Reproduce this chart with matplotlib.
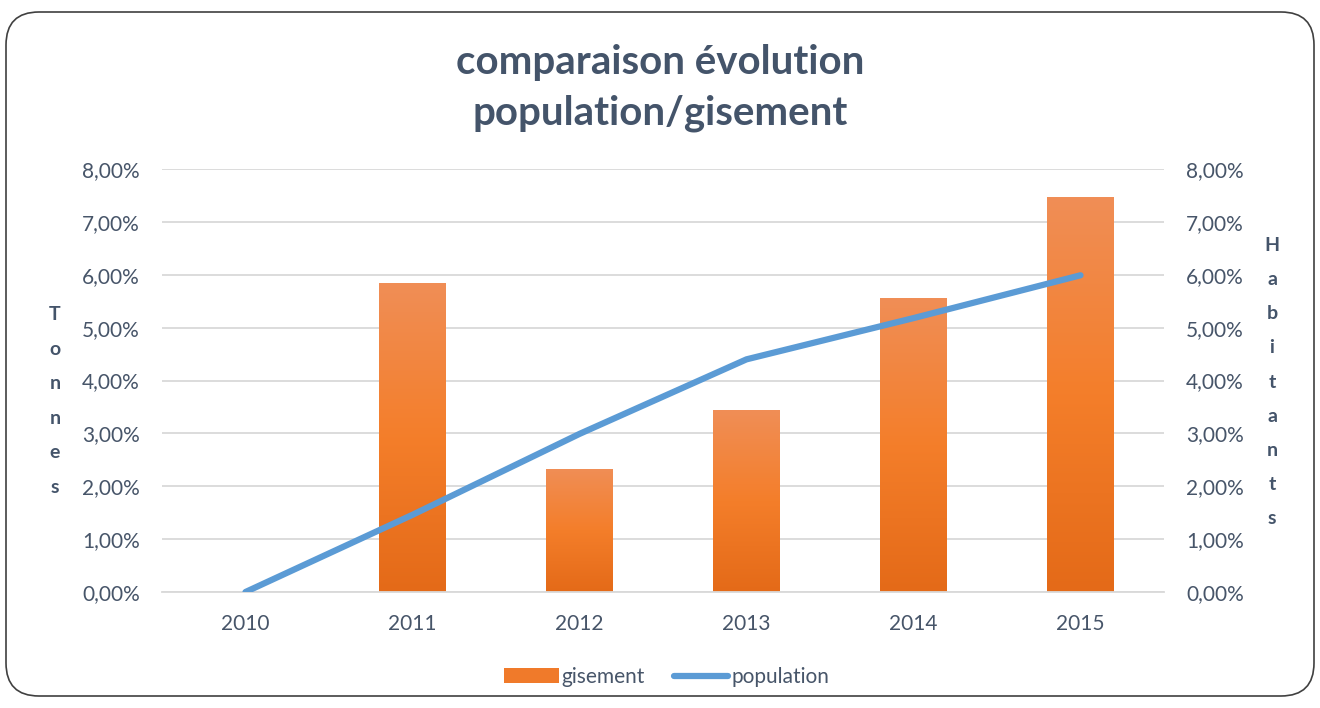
import matplotlib
matplotlib.use("Agg")
import matplotlib.pyplot as plt
import numpy as np
from matplotlib.patches import FancyBboxPatch, Patch
from matplotlib.lines import Line2D
from matplotlib.colors import LinearSegmentedColormap
from matplotlib.ticker import FuncFormatter

years = ["2010", "2011", "2012", "2013", "2014", "2015"]
gisement = [0.0, 5.84, 2.33, 3.44, 5.56, 7.47]
population = [0.0, 1.46, 2.99, 4.40, 5.18, 5.99]
y_ticks = [0, 1, 2, 3, 4, 5, 6, 7, 8]

title_color = "#44546A"
tick_color = "#475569"
label_color = "#44546A"
blue = "#5B9BD5"

plt.rcParams['font.family'] = ['Lato', 'DejaVu Sans']

fig = plt.figure(figsize=(13.2, 7.08), dpi=100)
W, H = 1320, 708
ax = fig.add_axes([162 / W, 1 - 592 / H, (1164 - 162) / W, (592 - 169) / H])
ax2 = ax.twinx()

x = np.arange(len(years))
bar_w = 0.4

# gradient-filled bars
grad = LinearSegmentedColormap.from_list("g", ["#E46A18", "#F47E2A", "#F08E56"])
gimg = np.linspace(0, 1, 256).reshape(-1, 1)
bars = ax.bar(x, gisement, width=bar_w, color="none", edgecolor="none", zorder=2)
for b, v in zip(bars, gisement):
    if v <= 0:
        continue
    x0 = b.get_x()
    im = ax.imshow(gimg, cmap=grad, origin="lower", aspect="auto",
                   extent=[x0, x0 + bar_w, 0, v], zorder=2)
    im.set_clip_path(b)
ax.set_xlim(-0.5, len(years) - 0.5)
ax.set_ylim(0, 8)
ax2.set_ylim(0, 8)

ax2.plot(x, population, color=blue, lw=4.5, solid_capstyle="round",
         solid_joinstyle="round", zorder=3)

pct = FuncFormatter(lambda v, p: f"{v:.2f}%".replace(".", ","))
for a in (ax, ax2):
    a.set_yticks(y_ticks)
    a.yaxis.set_major_formatter(pct)
    for s in a.spines.values():
        s.set_visible(False)
    a.tick_params(axis="y", length=0, labelsize=15, labelcolor=tick_color, pad=16)

ax.set_xticks(x)
ax.set_xticklabels(years)
ax.tick_params(axis="x", length=0, labelsize=15, labelcolor=tick_color, pad=16)
ax.grid(axis="y", color="#D9D9D9", lw=1.3, zorder=0)
ax.set_axisbelow(True)
ax.spines["bottom"].set_visible(True)
ax.spines["bottom"].set_color("#D9D9D9")
ax.spines["bottom"].set_linewidth(1.3)

# stacked axis titles
fig.text(55 / W, 1 - 401 / H, "\n".join("Tonnes"), ha="center", va="center",
         fontsize=14, fontweight="bold", color=label_color, linespacing=2.25)
fig.text(1272 / W, 1 - 382 / H, "\n".join("Habitants"), ha="center", va="center",
         fontsize=14, fontweight="bold", color=label_color, linespacing=2.23)

fig.text(0.5, 1 - 88 / H, "comparaison évolution\npopulation/gisement", ha="center",
         va="center", fontsize=29, fontweight="bold", color=title_color, linespacing=1.42)

# legend
handles = [Patch(facecolor="#F07A2A", edgecolor="none", label="gisement"),
           Line2D([0], [0], color=blue, lw=4.5, solid_capstyle="round", label="population")]
fig.legend(handles=handles, loc="center", bbox_to_anchor=(667 / W, 1 - 677 / H), ncol=2,
           frameon=False, fontsize=15, labelcolor=tick_color, handlelength=2.6,
           handleheight=0.75, handletextpad=0.15, columnspacing=1.4)

# rounded outer frame
frame = FancyBboxPatch((6 / W, 12 / H), 1 - 12 / W, 1 - 24 / H,
                       boxstyle="round,pad=0,rounding_size=0.025",
                       transform=fig.transFigure, facecolor="none",
                       edgecolor="#404040", lw=1.2, mutation_aspect=W / H)
fig.patches.append(frame)

fig.savefig("out.png", dpi=100)
